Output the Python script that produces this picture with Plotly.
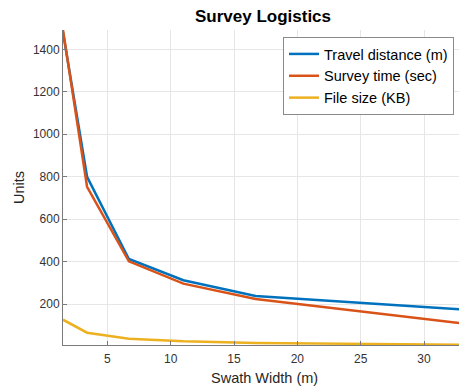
import plotly.graph_objects as go

# swath widths (m) and the three logistics series
swath = [1.5, 3.4, 6.7, 11.0, 16.7, 33.3]
travel_distance = [1480, 800, 413, 313, 239, 174]
survey_time = [1491, 753, 402, 297, 225, 108]
file_size = [127, 66, 38, 26, 18, 9]

series = [
    ("Travel distance (m)", travel_distance, "#0072BD"),
    ("Survey time (sec)", survey_time, "#D95319"),
    ("File size (KB)", file_size, "#EDB120"),
]

font = "Arial, Liberation Sans, sans-serif"

fig = go.Figure()
for name, vals, color in series:
    fig.add_trace(go.Scatter(x=swath, y=vals, mode="lines", name=name,
                             line=dict(color=color, width=2.5)))

axis_style = dict(
    showgrid=True, gridcolor="#e6e6e6", gridwidth=1,
    showline=True, linecolor="#7a7a7a", linewidth=1,
    ticks="inside", ticklen=4, tickcolor="#7a7a7a",
    tickfont=dict(family=font, size=12, color="#333333"),
    zeroline=False, automargin=False,
)

fig.update_layout(
    width=459, height=389,
    margin=dict(l=63, r=0, t=30, b=44, autoexpand=False),
    plot_bgcolor="white", paper_bgcolor="white",
    font=dict(family=font, color="#262626"),
    title=dict(text="<b>Survey Logistics</b>", x=263 / 459, xanchor="center",
               y=1 - 16 / 389, yanchor="middle",
               font=dict(family=font, size=17, color="#000000")),
    xaxis=dict(range=[1.5, 32.76], tickvals=[5, 10, 15, 20, 25, 30],
               ticklabelstandoff=3, **axis_style),
    yaxis=dict(range=[8, 1491], tickvals=[200, 400, 600, 800, 1000, 1200, 1400],
               title=dict(text="Units", font=dict(family=font, size=14.5, color="#262626"),
                          standoff=4),
               **axis_style),
    legend=dict(x=(454 - 63) / 396, xanchor="right", y=1 - 7 / 315, yanchor="top",
                bgcolor="white", bordercolor="#8a8a8a", borderwidth=1,
                font=dict(family=font, size=14.5, color="#000000"),
                tracegroupgap=0, itemwidth=30),
    showlegend=True,
    annotations=[dict(text="Swath Width (m)", xref="paper", yref="paper",
                      x=(264 - 63) / 396, y=0, yanchor="middle", yshift=-33,
                      showarrow=False,
                      font=dict(family=font, size=14.5, color="#262626"))],
)

# drop the browser's default body margin so the figure sits at the window corner
fig.write_html("out.html", config={"displayModeBar": False},
               post_script="document.body.style.margin='0px';")
